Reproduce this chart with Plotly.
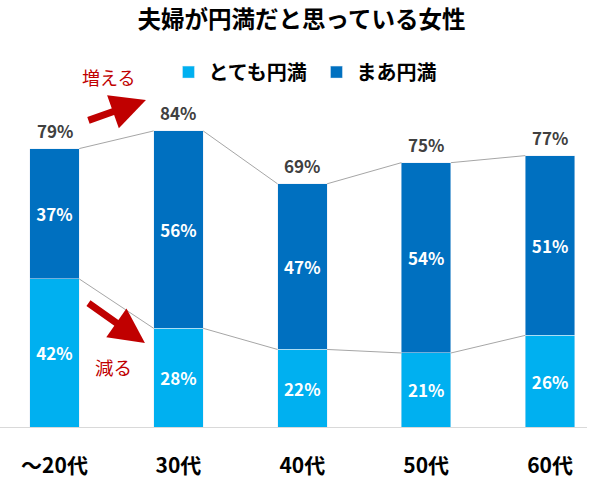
import plotly.graph_objects as go

# データ
categories = ["～20代", "30代", "40代", "50代", "60代"]
very_happy = [42, 28, 22, 21, 26]     # とても円満
fairly_happy = [37, 56, 47, 54, 51]   # まあ円満
totals = [a + b for a, b in zip(very_happy, fairly_happy)]

LIGHT = "#00B0F0"
DARK = "#0070C0"
LINE = "#A6A6A6"
RED = "#C00000"
FONT = "Noto Sans CJK JP"
BAR_W = 0.4

xs = list(range(len(categories)))


def connector(values):
    """棒の右上から次の棒の左上へ結ぶ線"""
    lx, ly = [], []
    for i in range(len(values) - 1):
        lx += [xs[i] + BAR_W / 2, xs[i + 1] - BAR_W / 2, None]
        ly += [values[i], values[i + 1], None]
    return lx, ly


fig = go.Figure()

for name, vals, color in [("とても円満", very_happy, LIGHT), ("まあ円満", fairly_happy, DARK)]:
    fig.add_trace(go.Bar(
        x=xs, y=vals, name=name, width=BAR_W,
        marker_color=color,
        text=[f"{v}%" for v in vals],
        textposition="inside", insidetextanchor="middle",
        textfont=dict(color="white", size=17, family=FONT, weight="bold"),
        constraintext="none",
    ))

for vals in (totals, very_happy):
    lx, ly = connector(vals)
    fig.add_trace(go.Scatter(x=lx, y=ly, mode="lines", line=dict(color=LINE, width=1),
                             showlegend=False, hoverinfo="skip"))

# 合計ラベル
for x, v in zip(xs, totals):
    fig.add_annotation(x=x, y=v, xref="x", yref="y", text=f"{v}%", showarrow=False,
                       yanchor="middle", yshift=18,
                       font=dict(color="#404040", size=17, family=FONT, weight="bold"))

# 矢印と注記
fig.add_annotation(x=0.738, y=92.8, ax=-59, ay=21, xref="x", yref="y",
                   showarrow=True, arrowhead=2, arrowsize=1, arrowwidth=7,
                   arrowcolor=RED, text="")
fig.add_annotation(x=0.73, y=23.8, ax=-58, ay=-41, xref="x", yref="y",
                   showarrow=True, arrowhead=2, arrowsize=1, arrowwidth=7,
                   arrowcolor=RED, text="")
fig.add_annotation(x=0.436, y=99.3, xref="x", yref="y", text="増える",
                   showarrow=False, font=dict(color=RED, size=18, family=FONT))
fig.add_annotation(x=0.476, y=17.0, xref="x", yref="y", text="減る",
                   showarrow=False, font=dict(color=RED, size=18.5, family=FONT))

fig.update_layout(
    width=590, height=482,
    barmode="stack",
    plot_bgcolor="white", paper_bgcolor="white",
    margin=dict(l=0, r=3, t=40, b=55),
    font=dict(family=FONT),
    title=dict(text="<b>夫婦が円満だと思っている女性</b>", x=0.511, xanchor="center",
               y=0.958, yanchor="middle",
               font=dict(size=23.5, color="black", family=FONT)),
    legend=dict(orientation="h", x=0.287, xanchor="left", y=0.917, yanchor="middle",
                font=dict(size=20, color="black", family=FONT, weight="bold"),
                entrywidth=103, entrywidthmode="pixels",
                traceorder="normal", bgcolor="rgba(0,0,0,0)"),
    xaxis=dict(range=[-0.44, 4.298], tickvals=xs, ticktext=categories,
               showgrid=False, zeroline=False, showline=True, linecolor="#D9D9D9",
               linewidth=1, ticks="", ticklabelstandoff=20,
               tickfont=dict(size=21, color="black", family=FONT, weight="bold")),
    yaxis=dict(range=[0, 109.8], visible=False, showgrid=False),
    showlegend=True,
)

fig.write_html("out.html", config={"displayModeBar": False},
               post_script="document.body.style.margin='0';")
